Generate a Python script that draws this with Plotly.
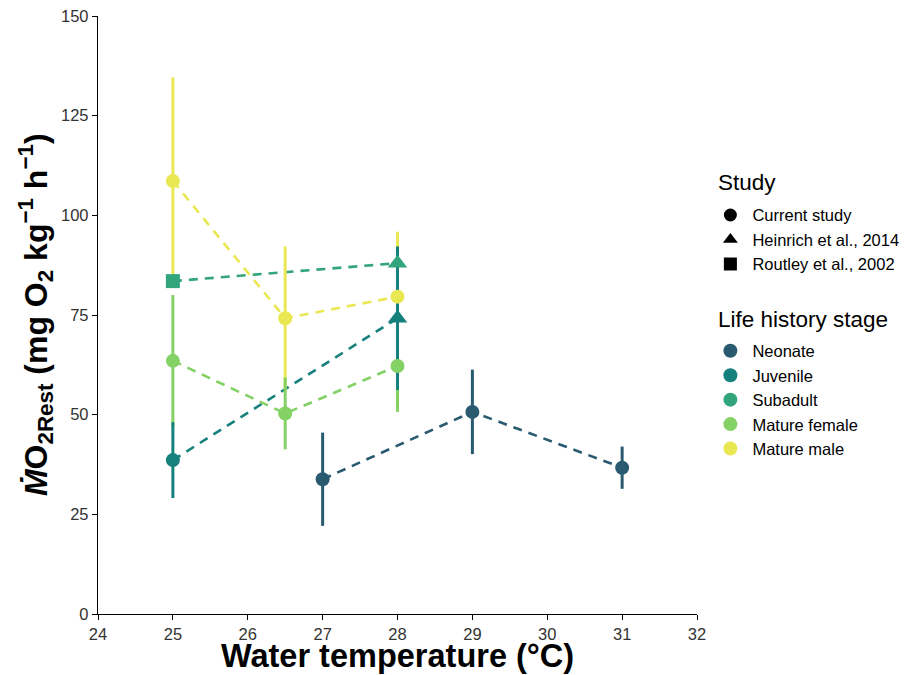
import plotly.graph_objects as go

# ---- data ----
stages = ["Neonate", "Juvenile", "Subadult", "Mature female", "Mature male"]
colors = {"Neonate": "#2a5a70", "Juvenile": "#15807c", "Subadult": "#33a57c",
          "Mature female": "#84d166", "Mature male": "#e9e852"}
studies = ["Current study", "Heinrich et al., 2014", "Routley et al., 2002"]
symbols = {"Current study": "circle", "Heinrich et al., 2014": "triangle-up",
           "Routley et al., 2002": "square"}

neonate_x = [27, 29, 31]
neonate_y = [33.8, 50.7, 36.7]
neonate_err = [11.7, 10.6, 5.3]
neonate_study = ["Current study", "Current study", "Current study"]

juvenile_x = [25, 28]
juvenile_y = [38.6, 74.2]
juvenile_err = [9.5, 18.0]
juvenile_study = ["Current study", "Heinrich et al., 2014"]

subadult_x = [25, 28]
subadult_y = [83.5, 88.0]
subadult_err = [0.0, 0.0]
subadult_study = ["Routley et al., 2002", "Heinrich et al., 2014"]

female_x = [25, 26.5, 28]
female_y = [63.5, 50.3, 62.2]
female_err = [16.5, 9.0, 11.5]
female_study = ["Current study", "Current study", "Current study"]

male_x = [25, 26.5, 28]
male_y = [108.6, 74.2, 79.6]
male_err = [26.0, 18.0, 16.3]
male_study = ["Current study", "Current study", "Current study"]

x_ticks = [24, 25, 26, 27, 28, 29, 30, 31, 32]
y_ticks = [0, 25, 50, 75, 100, 125, 150]

data = {
    "Neonate": (neonate_x, neonate_y, neonate_err, neonate_study),
    "Juvenile": (juvenile_x, juvenile_y, juvenile_err, juvenile_study),
    "Subadult": (subadult_x, subadult_y, subadult_err, subadult_study),
    "Mature female": (female_x, female_y, female_err, female_study),
    "Mature male": (male_x, male_y, male_err, male_study),
}

FONT = "Liberation Sans, Arial, sans-serif"
fig = go.Figure()

# dashed lines
for s in stages:
    x, y, e, st = data[s]
    fig.add_trace(go.Scatter(x=x, y=y, mode="lines", showlegend=False, hoverinfo="skip",
                             line=dict(color=colors[s], width=2.6, dash="9px,7px")))

# error bars
for s in ["Mature male", "Mature female", "Subadult", "Juvenile", "Neonate"]:
    x, y, e, st = data[s]
    fig.add_trace(go.Scatter(x=x, y=y, mode="markers", showlegend=False, hoverinfo="skip",
                             marker=dict(size=2, opacity=0, color=colors[s]),
                             error_y=dict(type="data", array=e, visible=True, width=0,
                                          thickness=3, color=colors[s])))

# markers
for s in ["Mature male", "Mature female", "Subadult", "Juvenile", "Neonate"]:
    x, y, e, st = data[s]
    sizes = [17 if symbols[k] == "triangle-up" else 14 for k in st]
    fig.add_trace(go.Scatter(x=x, y=y, mode="markers", showlegend=False,
                             marker=dict(size=sizes, color=colors[s], opacity=1,
                                         symbol=[symbols[k] for k in st],
                                         line=dict(width=0))))

# legend: Study
for k in studies:
    fig.add_trace(go.Scatter(x=[None], y=[None], mode="markers", name=k, legend="legend",
                             marker=dict(size=13, color="black", symbol=symbols[k], opacity=1)))
# legend: Life history stage
for s in stages:
    fig.add_trace(go.Scatter(x=[None], y=[None], mode="markers", name=s, legend="legend2",
                             marker=dict(size=14, color=colors[s], symbol="circle", opacity=1)))

axis_common = dict(showline=True, linecolor="black", linewidth=1.3, ticks="outside",
                   ticklen=5, tickwidth=1.3, tickcolor="black", showgrid=False,
                   zeroline=False, tickfont=dict(family=FONT, size=16.5, color="#333333"))

fig.update_layout(
    width=909, height=675,
    margin=dict(l=98, r=212, t=16, b=61, autoexpand=False),
    paper_bgcolor="white", plot_bgcolor="white",
    font=dict(family=FONT),
    xaxis=dict(range=[24, 32], tickvals=x_ticks, **axis_common),
    yaxis=dict(range=[0, 150], tickvals=y_ticks, **axis_common),
    legend=dict(x=1.019, y=0.696, xanchor="left", yanchor="top",
                font=dict(size=16.5, color="black", family=FONT),
                tracegroupgap=0, itemwidth=34, bgcolor="rgba(0,0,0,0)"),
    legend2=dict(x=1.019, y=0.469, xanchor="left", yanchor="top",
                 font=dict(size=16.5, color="black", family=FONT),
                 tracegroupgap=0, itemwidth=34, bgcolor="rgba(0,0,0,0)"),
    annotations=[
        dict(text="<b>Water temperature (°C)</b>", xref="paper", yref="paper",
             x=0.5, y=-0.070, xanchor="center", yanchor="middle", showarrow=False,
             font=dict(size=32.5, color="black", family=FONT)),
        dict(text="<b><i>Ṁ</i>O<sub>2Rest</sub> (mg O<sub>2</sub> kg<sup>−1</sup> h<sup>−1</sup>)</b>",
             xref="paper", yref="paper", x=-0.105, y=0.5, xanchor="center", yanchor="middle",
             textangle=-90, showarrow=False, font=dict(size=32, color="black", family=FONT)),
        dict(text="Study", xref="paper", yref="paper", x=1.032, y=0.721,
             xanchor="left", yanchor="middle", showarrow=False,
             font=dict(size=22.5, color="black", family=FONT)),
        dict(text="Life history stage", xref="paper", yref="paper", x=1.032, y=0.493,
             xanchor="left", yanchor="middle", showarrow=False,
             font=dict(size=22.5, color="black", family=FONT)),
    ],
)

fig.write_html("out.html")
